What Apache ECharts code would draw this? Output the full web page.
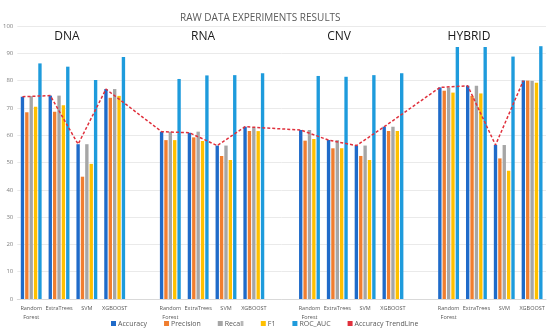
<!DOCTYPE html>
<html>
<head>
<meta charset="utf-8">
<script src="https://cdn.jsdelivr.net/npm/echarts@6/dist/echarts.min.js"></script>
<style>html,body{margin:0;padding:0;background:#fff;}#c{width:550px;height:336px;}</style>
</head>
<body>
<div id="c"></div>
<script>
var categories = ['Random\nForest','ExtraTrees','SVM','XGBOOST','',
                  'Random\nForest','ExtraTrees','SVM','XGBOOST','',
                  'Random\nForest','ExtraTrees','SVM','XGBOOST','',
                  'Random\nForest','ExtraTrees','SVM','XGBOOST'];
var groups = ['DNA','RNA','CNV','HYBRID'];
var accuracy  = [74.1,74.5,56.7,76.9,null, 61.3,60.9,56.2,63.1,null, 61.9,58.2,56.2,63.1,null, 77.5,78.1,56.4,80.0];
var precision = [68.4,68.6,44.8,73.7,null, 58.2,59.2,52.4,61.5,null, 58.0,55.2,52.4,61.5,null, 76.3,74.4,51.5,80.0];
var recall    = [74.3,74.5,56.7,76.9,null, 61.3,61.3,56.2,62.8,null, 61.9,58.2,56.2,63.1,null, 77.5,78.1,56.4,79.9];
var f1        = [70.4,71.0,49.5,74.4,null, 58.2,57.9,50.9,61.5,null, 58.6,55.2,50.9,61.5,null, 75.6,75.3,47.0,79.2];
var rocAuc    = [86.3,85.1,80.2,88.6,null, 80.6,81.9,82.0,82.7,null, 81.7,81.4,82.0,82.7,null, 92.3,92.3,88.8,92.6];
var yTicks = [0,10,20,30,40,50,60,70,80,90,100];

var colors = ['#1F6BC9','#F07E2F','#A6A6A6','#FFC000','#1E9BDC','#E0303C'];
var lineOffset = -0.314;
var trend = [];
accuracy.forEach(function(v,i){ if(v!==null) trend.push([i+0.5+lineOffset, v]); });

var chart = echarts.init(document.getElementById('c'));
function bar(name, data, color){
  return {name:name,type:'bar',data:data,itemStyle:{color:color},barGap:'30%',barCategoryGap:'25%'};
}
var groupX = [67,203,339,469];
chart.setOption({
  animation:false,
  title:{text:'RAW DATA EXPERIMENTS RESULTS',left:175,top:8,textStyle:{fontSize:10,fontWeight:'normal',color:'#595959',fontFamily:'Open Sans'}},
  grid:{left:16,right:4,top:26,bottom:37},
  legend:{bottom:4,left:106,itemWidth:5,itemHeight:5,itemGap:17,icon:'rect',
    textStyle:{fontSize:7,color:'#595959',fontFamily:'Open Sans',padding:[0,0,0,-3]},
    data:['Accuracy','Precision','Recall','F1','ROC_AUC','Accuracy TrendLine']},
  xAxis:[{type:'category',data:categories,axisTick:{show:false},
    axisLine:{lineStyle:{color:'#D9D9D9'}},
    axisLabel:{interval:0,fontSize:5.5,color:'#595959',margin:5,lineHeight:9,fontFamily:'Open Sans',align:'center'}},
    {type:'value',min:0,max:categories.length,show:false}],
  yAxis:{type:'value',min:0,max:100,interval:10,
    axisLabel:{fontSize:6,color:'#7F7F7F',margin:4,fontFamily:'Open Sans'},
    splitLine:{lineStyle:{color:'#EAEAEA'}},axisLine:{show:false},axisTick:{show:false}},
  graphic: groups.map(function(g,i){
    return {type:'text',x:groupX[i],y:31,style:{text:g,fontSize:12,fill:'#1a1a1a',fontFamily:'Open Sans',textAlign:'center'}};
  }),
  series:[
    bar('Accuracy',accuracy,colors[0]),
    bar('Precision',precision,colors[1]),
    bar('Recall',recall,colors[2]),
    bar('F1',f1,colors[3]),
    bar('ROC_AUC',rocAuc,colors[4]),
    {name:'Accuracy TrendLine',type:'line',xAxisIndex:1,data:trend,symbol:'none',
     itemStyle:{color:colors[5]},lineStyle:{color:colors[5],width:1.5,type:[3,2]},z:5}
  ]
});
</script>
</body>
</html>
